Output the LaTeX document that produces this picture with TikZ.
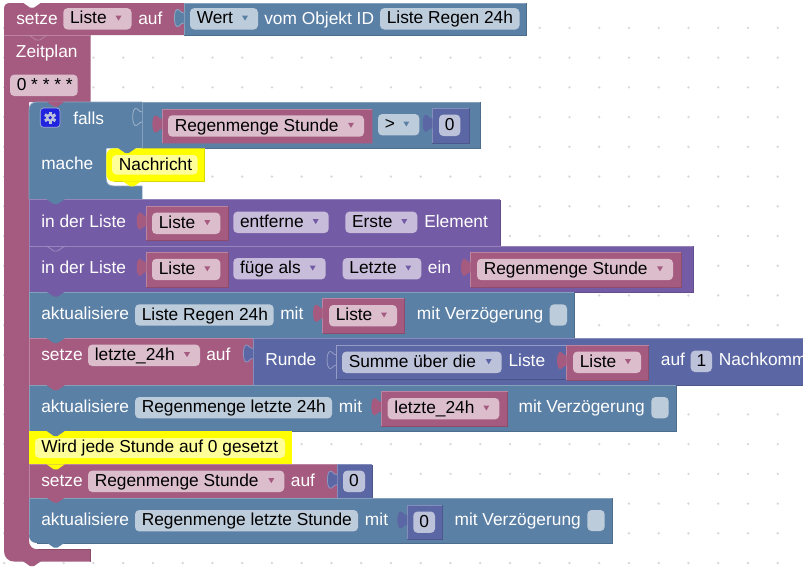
\documentclass[tikz,border=0pt]{standalone}
\usepackage{fontspec}
\setmainfont{Liberation Sans}
\usetikzlibrary{positioning}
\definecolor{bpink}{HTML}{A55B80}
\definecolor{bblue}{HTML}{5B80A5}
\definecolor{bpurple}{HTML}{745BA5}
\definecolor{bmath}{HTML}{5B67A5}
\definecolor{fpink}{HTML}{DBBDCC}
\definecolor{fblue}{HTML}{BDCCDB}
\definecolor{fpurple}{HTML}{C7BDDB}
\definecolor{fmath}{HTML}{BDC2DB}
\definecolor{byellow}{HTML}{FFFF00}
\definecolor{fyellow}{HTML}{FFFF99}
\definecolor{griddot}{HTML}{D6D6DC}
\tikzset{
  lbl/.style={anchor=base west,inner sep=0pt,text=white,font=\fontsize{13}{15}\selectfont},
  txt/.style={anchor=base west,inner sep=0pt,text=black,font=\fontsize{13}{15}\selectfont},
  ctxt/.style={anchor=base,inner sep=0pt,text=black,font=\fontsize{13}{15}\selectfont},
  fieldbox/.style={rounded corners=3.2pt},
}
% block: colour, x1, y1, x2, y2
\newcommand{\blk}[5]{
  \fill[#1] (#2,#3) rectangle (#4,#5);
  \draw[#1!75!white,line width=.6pt] (#2,#5)--(#2,#3)--(#4,#3);
  \draw[#1!85!black,line width=.6pt] (#2,#5)--(#4,#5)--(#4,#3);
}
% field without arrow: name, colour, x1, x2, y centre, text
\newcommand{\fld}[6]{
  \fill[f#2,fieldbox] (#3,#5-10.7) rectangle (#4,#5+10.7);
  \node[txt] (#1) at (#3+6.5,#5+5){#6};
}
% field with dropdown arrow
\newcommand{\dfld}[6]{
  \fld{#1}{#2}{#3}{#4}{#5}{#6}
  \fill[b#2] (#4-16,#5-3.2)--(#4-10,#5-3.2)--(#4-13,#5+1.8)--cycle;
}
% field with a centred number
\newcommand{\nfld}[6]{
  \fill[f#2,fieldbox] (#3,#5-10.7) rectangle (#4,#5+10.7);
  \node[ctxt] (#1) at ({(#3+#4)/2},#5+5){#6};
}
% puzzle tab to the left of x, block top y
\newcommand{\tabl}[3]{
  \path[#1] (#2,#3+10) .. controls (#2-4,#3+10) and (#2-4,#3+6) .. (#2-7,#3+6.5)
    .. controls (#2-10.5,#3+8) and (#2-10.5,#3+22) .. (#2-7,#3+23.5)
    .. controls (#2-4,#3+24) and (#2-4,#3+20) .. (#2,#3+20);
}
% notch below a statement
\newcommand{\tabd}[3]{
  \path[#1] (#2,#3) -- (#2+7.2,#3+5) -- (#2+10.8,#3+5) -- (#2+18,#3);
}
\begin{document}
\begin{tikzpicture}[x=.75pt,y=-.75pt]
\useasboundingbox (0,0) rectangle (803,572);
\clip (0,0) rectangle (803,572);
\fill[white] (0,0) rectangle (803,572);
% grid
\foreach \i in {0,...,26}
  \foreach \j in {-1,0,...,18}
    \fill[griddot] (4.2+29.75*\i,27.9+29.73*\j) circle (1.3);

% root stack
\fill[bpink] (4,35)--(90.7,35)--(90.7,102)--(29,102)--(29,540)
  .. controls (29,546) and (32,549.3) .. (38,549.3) --(90.7,549.3)--(90.7,561.7)--(15,561.7)
  .. controls (8,561.7) and (4,557) .. (4,551) --cycle;
\draw[bpink!85!black,line width=.6pt] (38,549.3)--(90.7,549.3)--(90.7,561.7);
\tabd{fill=bpink}{23}{561.2}
\fill[bpink] (4,35)--(4,9) .. controls (4,5) and (6,3) .. (10,3) --(184,3)--(184,35)--cycle;
\draw[bpink!75!white,line width=.6pt] (4,35)--(90.7,35);
\tabd{fill=white}{23}{2.6}
\tabd{draw=bpink!75!white,line width=.6pt}{29}{35}
\blk{bblue}{184}{3}{526.5}{35}
\tabl{fill=bblue,draw=bblue!70!white,line width=.6pt}{184}{3}
\node[lbl] (setzeA) at (16,24){setze};
\dfld{varListeA}{pink}{63.3}{131.5}{18.8}{Liste}
\node[lbl] (aufA) at (138,24){auf};
\dfld{wert}{blue}{190}{258}{18.8}{Wert}
\node[lbl] (objekt) at (264,24){vom Objekt ID};
\fld{idRegen}{blue}{380}{519.5}{18.8}{Liste Regen 24h}
\node[lbl] (zeitplan) at (15.7,57.3){Zeitplan};
\fld{cron}{pink}{10}{77.7}{85.3}{0 * * * *}

% falls
\fill[bblue] (29,110) .. controls (29,105) and (32,102) .. (37,102) --(142.3,102)--(142.3,148.3)--(106.3,148.3)--(106.3,179)
  .. controls (106.3,184) and (109,186) .. (114,186) --(142.3,186)--(142.3,199.3)--(29,199.3)--cycle;
\draw[bblue!70!white,line width=.6pt] (29,199)--(29,110) .. controls (29,105) and (32,102) .. (37,102)--(142.3,102);
\draw[bblue!70!white,line width=.6pt] (106.3,179) .. controls (106.3,184) and (109,186) .. (114,186)--(142.3,186);
\blk{bblue}{142.3}{102}{480.7}{148.3}
\tabd{fill=bpink}{46.7}{101.6}
\tabl{draw=bblue!60!white,line width=.6pt}{142.3}{102}
\fill[bpink] (162,109) rectangle (372.3,143);
\draw[bpink!75!white,line width=.6pt] (162,143)--(162,109)--(372.3,109);
\draw[bblue!60!bpink,line width=.6pt] (162,143)--(372.3,143)--(372.3,109);
\tabl{fill=bpink}{162}{109}
\dfld{varRegen}{pink}{168}{364}{126}{Regenmenge Stunde}
\dfld{vergleich}{blue}{378}{419.3}{124.7}{>}
\blk{bmath}{432.3}{108.3}{469}{143.3}
\tabl{fill=bmath}{432.3}{108.3}
\nfld{nullA}{math}{439}{460.3}{125.3}{0}
\fill[blue!65!bmath,rounded corners=2.5pt,draw=fmath!80!bmath,line width=.5pt] (40.3,108) rectangle (60,127.3);
\fill[fmath] (50.2,117.7) circle (4.2);
\foreach \a in {0,60,...,300}
  \fill[fmath,rotate around={\a:(50.2,117.7)}] (48.7,111.6) rectangle (51.7,114);
\fill[blue!65!bmath] (50.2,117.7) circle (1.8);
\node[lbl] (falls) at (73,124){falls};
\node[lbl] (mache) at (41,169.3){mache};

% Nachricht
\fill[byellow] (114,148.3)--(204.7,148.3)--(204.7,181.7)--(114,181.7)
  .. controls (109,181.7) and (106.3,178) .. (106.3,174) --(106.3,156) .. controls (106.3,152) and (109,148.3) .. (114,148.3) --cycle;
\draw[byellow!85!black,line width=.6pt] (114,181.7)--(204.7,181.7)--(204.7,148.3);
\tabd{fill=bblue}{118}{148}
\tabd{fill=byellow}{123}{181.4}
\fill[fyellow,fieldbox] (112,155) rectangle (197.7,174.5);
\node[txt] (nachricht) at (118.7,170.5){Nachricht};

% in der Liste, entferne
\blk{bpurple}{29}{199.5}{500.3}{246}
\tabd{fill=bblue}{46.7}{199.2}
\node[lbl] (listeA) at (41,227.3){in der Liste};
\blk{bpink}{146.3}{206}{228.3}{240.7}
\tabl{fill=bpink}{146.3}{206}
\dfld{varListeB}{pink}{152}{220.3}{223.3}{Liste}
\dfld{entferne}{purple}{233.3}{328.7}{222.3}{entferne}
\dfld{erste}{purple}{345.3}{417.3}{222.3}{Erste}
\node[lbl] (element) at (424,227.3){Element};

% in der Liste, fuege als
\blk{bpurple}{29}{246}{693}{292}
\tabd{draw=bpurple!70!white,line width=.6pt}{46.7}{246}
\node[lbl] (listeB) at (41,273.3){in der Liste};
\blk{bpink}{146.3}{252.3}{228.3}{287}
\tabl{fill=bpink}{146.3}{252.3}
\dfld{varListeC}{pink}{152}{220.3}{269.5}{Liste}
\dfld{fuege}{purple}{233.3}{325.7}{268.7}{füge als}
\dfld{letzte}{purple}{342.7}{421.3}{268.7}{Letzte}
\node[lbl] (ein) at (427.7,273.3){ein};
\blk{bpink}{470.7}{252.3}{681}{287}
\tabl{fill=bpink}{470.7}{252.3}
\dfld{varRegenB}{pink}{477}{673}{269.5}{Regenmenge Stunde}

% aktualisiere Liste Regen 24h
\blk{bblue}{29}{292}{574}{338.5}
\tabd{fill=bpurple}{46.7}{291.7}
\node[lbl] (aktA) at (41,319.9){aktualisiere};
\fld{idRegenB}{blue}{135}{273.7}{315}{Liste Regen 24h}
\node[lbl] (mitA) at (280,319.9){mit};
\blk{bpink}{322.7}{298.3}{404.7}{333.3}
\tabl{fill=bpink}{322.7}{298.3}
\dfld{varListeD}{pink}{329}{397}{315.7}{Liste}
\node[lbl] (verzA) at (416.7,319.9){mit Verzögerung};
\fill[fblue,fieldbox] (549.7,304.3) rectangle (567,325.7);

% setze letzte_24h
\blk{bpink}{29}{338.5}{253}{385.2}
\tabd{fill=bblue}{46.7}{338.2}
\node[lbl] (setzeB) at (41,360){setze};
\dfld{varLetzte}{pink}{88}{200}{355.3}{letzte\_24h}
\node[lbl] (aufB) at (206,360){auf};
\blk{bmath}{253}{338.5}{810}{385.2}
\tabl{fill=bmath,draw=bmath!70!white,line width=.6pt}{253}{338.5}
\node[lbl] (runde) at (265,365.3){Runde};
\draw[bmath!65!white,line width=.6pt] (336.7,379)--(336.7,345)--(566.7,345);
\draw[bmath!80!black,line width=.6pt] (336.7,379)--(566.7,379);
\tabl{draw=bmath!65!white,line width=.6pt}{336.7}{345}
\dfld{summe}{math}{342}{501.7}{362.3}{Summe über die}
\node[lbl] (listeC) at (508.3,366.7){Liste};
\blk{bpink}{566.7}{345.5}{648.7}{380}
\tabl{fill=bpink}{566.7}{345.5}
\dfld{varListeE}{pink}{573}{641}{362.3}{Liste}
\node[lbl] (aufC) at (660.7,365.3){auf};
\nfld{stellen}{math}{690.7}{712}{361.3}{1}
\node[lbl] (nachkomm) at (718.7,365.3){Nachkomm};

% aktualisiere Regenmenge letzte 24h
\blk{bblue}{29}{385.5}{676}{431.3}
\tabd{fill=bpink}{46.7}{385.2}
\node[lbl] (aktB) at (41,412){aktualisiere};
\fld{idLetzte}{blue}{135}{332}{407.7}{Regenmenge letzte 24h}
\node[lbl] (mitB) at (338.7,412){mit};
\blk{bpink}{381}{391.7}{507.7}{426}
\tabl{fill=bpink}{381}{391.7}
\dfld{varLetzteB}{pink}{387.7}{499.3}{408.7}{letzte\_24h}
\node[lbl] (verzB) at (518.3,412){mit Verzögerung};
\fill[fblue,fieldbox] (651.3,397) rectangle (668.7,418.3);

% Kommentar
\fill[byellow] (29,431.3) rectangle (291.7,464.7);
\tabd{fill=bblue}{46.7}{431}
\fill[fyellow,fieldbox] (35,438) rectangle (285,458);
\node[txt] (kommentar) at (41,452.7){Wird jede Stunde auf 0 gesetzt};

% setze Regenmenge Stunde
\blk{bpink}{29}{464.7}{337}{498}
\tabd{fill=byellow}{46.7}{464.4}
\node[lbl] (setzeC) at (41,486){setze};
\dfld{varRegenC}{pink}{88}{284.3}{481.3}{Regenmenge Stunde}
\node[lbl] (aufD) at (290.7,486){auf};
\blk{bmath}{337}{464.7}{372}{498}
\tabl{fill=bmath,draw=bmath!70!white,line width=.6pt}{337}{464.7}
\nfld{nullB}{math}{343}{365}{481.3}{0}

% aktualisiere Regenmenge letzte Stunde
\fill[bblue] (29,498)--(612,498)--(612,543)--(37,543) .. controls (32,543) and (29,540) .. (29,535) --cycle;
\draw[bblue!75!white,line width=.6pt] (29,535)--(29,498)--(612,498);
\draw[bblue!85!black,line width=.6pt] (37,543)--(612,543)--(612,498);
\tabd{fill=bpink}{46.7}{497.7}
\tabd{fill=bblue}{46.7}{542.6}
\node[lbl] (aktC) at (41,525.3){aktualisiere};
\fld{idStunde}{blue}{135}{358}{520.7}{Regenmenge letzte Stunde}
\node[lbl] (mitC) at (364.7,525.3){mit};
\blk{bmath}{407}{505}{442.7}{539}
\tabl{fill=bmath}{407}{505}
\nfld{nullC}{math}{413.3}{435}{522.2}{0}
\node[lbl] (verzC) at (454.3,525.3){mit Verzögerung};
\fill[fblue,fieldbox] (587.3,510) rectangle (604.7,531);
\end{tikzpicture}
\end{document}
